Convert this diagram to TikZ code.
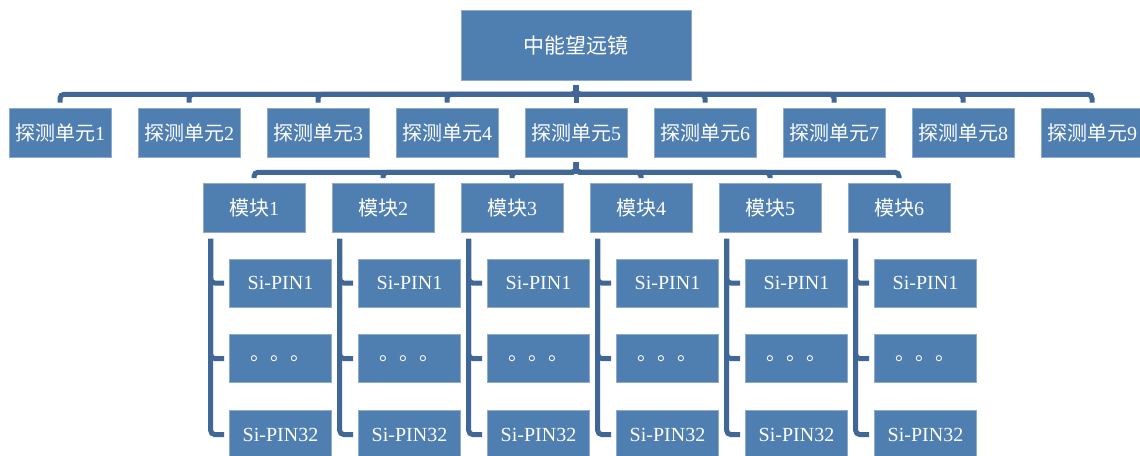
\documentclass[tikz,border=0pt]{standalone}
\usepackage{fontspec}
\setmainfont{Liberation Serif}
\newfontfamily\cjk{Noto Sans CJK SC}
\definecolor{boxblue}{RGB}{79,126,177}
\definecolor{linkblue}{RGB}{64,103,150}
\begin{document}
\begin{tikzpicture}[x=1pt,y=-1pt,
  box/.style={fill=boxblue, draw=boxblue!65!white, line width=0.6pt, text=white,
    minimum width=102pt, minimum height=49pt, inner sep=0pt,
    font=\fontsize{20}{24}\selectfont},
  topbox/.style={box, minimum width=230pt, minimum height=70pt, font=\fontsize{21}{25}\selectfont},
  conn/.style={draw=linkblue, line width=5pt, rounded corners=4pt, shorten <=5pt, shorten >=5pt},
  trunk/.style={draw=linkblue, line width=5pt, rounded corners=4pt, shorten <=6pt, shorten >=5pt}]
\clip (0,0) rectangle (1140,455);
\fill[white] (0,0) rectangle (1140,455);
% top
\node[topbox] (top) at (576,45) {{\cjk 中能望远镜}};
% units
\foreach \i in {1,...,9}{
  \node[box] (u\i) at ({60+129*(\i-1)},132.5) {{\cjk 探测单元}\i};
  \draw[conn] (top.south) -- ++(0,14) -| (u\i.north);
}
% modules
\foreach \j in {1,...,6}{
  \node[box] (m\j) at ({254+129*(\j-1)},208) {{\cjk 模块}\j};
  \draw[conn] (u5.south) -- ++(0,15) -| (m\j.north);
  \node[box, minimum height=48pt] (p\j a) at ({254+129*(\j-1)+26.5},283) {Si-PIN1};
  \node[box, minimum height=48pt] (p\j b) at ({254+129*(\j-1)+26.5},358.5) {{\cjk 。。。}};
  \node[box, minimum height=48pt] (p\j c) at ({254+129*(\j-1)+26.5},434.5) {Si-PIN32};
  \draw[trunk] ([xshift=8pt]m\j.south west) |- (p\j c.west);
  \draw[trunk] ([xshift=8pt]m\j.south west) |- (p\j a.west);
  \draw[trunk] ([xshift=8pt]m\j.south west) |- (p\j b.west);
}
\end{tikzpicture}
\end{document}
